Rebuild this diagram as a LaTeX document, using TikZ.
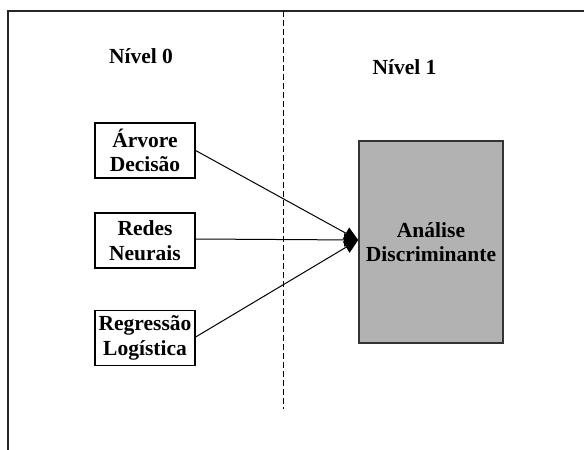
\documentclass[tikz,border=0pt]{standalone}
\usepackage{fontspec}
\setmainfont{Liberation Serif}
\usetikzlibrary{arrows.meta}
\begin{document}
\begin{tikzpicture}[x=1pt,y=-1pt,
  lbl/.style={font=\fontsize{21.5}{24.5}\selectfont\bfseries},
  model/.style={lbl, draw=black, line width=1.3pt, minimum width=100pt, minimum height=55pt,
    inner sep=0pt, align=center},
  meta/.style={lbl, draw=black!80, line width=1.6pt, fill=black!30, minimum width=144pt,
    minimum height=202pt, inner sep=0pt, align=center},
  frame/.style={line width=1.6pt, black!85},
  link/.style={line width=1pt, -{Triangle[length=14pt,width=13pt]}}]
\useasboundingbox (0,0) rectangle (584,450);
% outer frame: top and left edges
\draw[frame] (8,450) -- (8,11) -- (584,11);
% separation between levels
\draw[line width=0.9pt, dash pattern=on 6pt off 3pt] (283,11) -- (283,409);
% level captions
\node[lbl] (n0) at (141,56) {Nível 0};
\node[lbl] (n1) at (404.5,67) {Nível 1};
% base models
\node[model] (av) at (145,150.5) {Árvore\\Decisão};
\node[model] (rn) at (145,240.5) {Redes\\Neurais};
\node[model] (rl) at (145,338) {Regressão\\Logística};
% meta classifier
\node[meta] (ad) at (431,242) {Análise\\Discriminante};
\coordinate (tip) at ([yshift=2pt]ad.west);
\draw[link] (av.east) -- (tip);
\draw[link] ([yshift=1.5pt]rn.east) -- (tip);
\draw[link] ([yshift=1pt]rl.east) -- (tip);
\end{tikzpicture}
\end{document}
